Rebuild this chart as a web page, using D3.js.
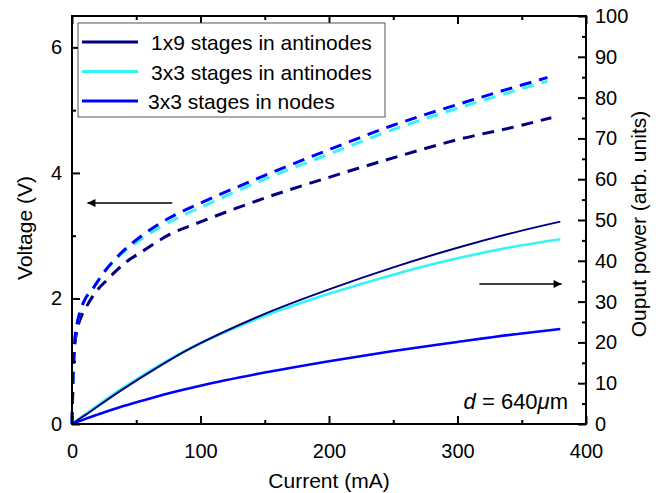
<!DOCTYPE html>
<html>
<head>
<meta charset="utf-8">
<script src="https://cdn.jsdelivr.net/npm/d3@7"></script>
<style>
  body { margin: 0; background: #fff; }
  svg text { font-family: "Liberation Sans", Arial, Helvetica, sans-serif; fill: #000; }
</style>
</head>
<body>
<div id="vis"></div>
<script>
// voltage curves (dashed, left axis)
var currentV1x9 = [0, 1, 2, 4, 6, 10, 18, 27, 42, 54, 76, 100, 150, 200, 250, 300, 350, 373];
var voltage1x9 = [0, 0.8, 1.2, 1.5, 1.65, 1.82, 2.09, 2.29, 2.58, 2.74, 3.02, 3.22, 3.6, 3.93, 4.24, 4.53, 4.76, 4.88];
var currentV3x3 = [0, 1, 2, 4, 6, 10, 16, 25, 37, 53, 68, 84, 100, 150, 200, 250, 300, 350, 370];
var voltage3x3anti = [0, 0.9, 1.3, 1.6, 1.77, 1.98, 2.15, 2.42, 2.68, 2.93, 3.13, 3.3, 3.45, 3.9, 4.3, 4.69, 5.03, 5.34, 5.46];
var voltage3x3nodes = [0, 0.9, 1.3, 1.6, 1.77, 1.98, 2.15, 2.42, 2.7, 2.98, 3.19, 3.37, 3.52, 3.96, 4.37, 4.76, 5.09, 5.4, 5.52];

// output power curves (solid, right axis)
var currentP = [0, 10, 20, 40, 60, 80, 100, 150, 200, 250, 300, 350, 380];
var power1x9 = [0, 2.1, 4.3, 8.6, 12.6, 16.4, 19.8, 27.0, 33.0, 38.4, 43.2, 47.4, 49.6];
var power3x3anti = [0, 2.3, 4.6, 8.9, 12.9, 16.6, 19.8, 26.5, 31.9, 36.6, 40.6, 43.8, 45.3];
var power3x3nodes = [0, 1.2, 2.3, 4.4, 6.2, 7.9, 9.4, 12.6, 15.4, 17.9, 20.1, 22.2, 23.3];

var seriesNames = ['1x9 stages in antinodes', '3x3 stages in antinodes', '3x3 stages in nodes'];
var seriesColors = ['#000080', '#33f5f5', '#0000ff'];

var xTicks = [0, 100, 200, 300, 400];
var xMinor = [50, 150, 250, 350];
var yLeftTicks = [0, 2, 4, 6];
var yLeftMinor = [1, 3, 5];
var yRightTicks = [0, 10, 20, 30, 40, 50, 60, 70, 80, 90, 100];
var yRightMinor = [5, 15, 25, 35, 45, 55, 65, 75, 85, 95];

// arrows: [current from, current to, value]
var arrowVoltage = [78, 12, 3.52];
var arrowPower = [317, 381, 34.3];

var margin = { top: 16, left: 72, right: 74, bottom: 69 };
var width = 660 - margin.left - margin.right;
var height = 493 - margin.top - margin.bottom;

var svg = d3.select('#vis')
  .append('svg')
  .attr('width', 660)
  .attr('height', 493);

var g = svg.append('g')
  .attr('transform', 'translate(' + margin.left + ',' + margin.top + ')');

var x = d3.scaleLinear().domain([0, 400]).range([0, width]);
var yV = d3.scaleLinear().domain([0, 6.5]).range([height, 0]);
var yP = d3.scaleLinear().domain([0, 100]).range([height, 0]);

function zip(xs, ys) {
  return xs.map(function(d, i) { return [d, ys[i]]; });
}

var lineV = d3.line()
  .curve(d3.curveMonotoneX)
  .x(function(d) { return x(d[0]); })
  .y(function(d) { return yV(d[1]); });

var lineP = d3.line()
  .curve(d3.curveMonotoneX)
  .x(function(d) { return x(d[0]); })
  .y(function(d) { return yP(d[1]); });

var voltageData = [
  zip(currentV1x9, voltage1x9),
  zip(currentV3x3, voltage3x3anti),
  zip(currentV3x3, voltage3x3nodes)
];
var powerData = [
  zip(currentP, power1x9),
  zip(currentP, power3x3anti),
  zip(currentP, power3x3nodes)
];

// dashed voltage lines
g.selectAll('.vline')
  .data(voltageData)
  .enter()
  .append('path')
  .attr('class', 'vline')
  .attr('fill', 'none')
  .attr('stroke', function(d, i) { return seriesColors[i]; })
  .attr('stroke-width', 3)
  .attr('stroke-dasharray', '12,8')
  .attr('d', lineV);

// solid power lines (cyan first so navy sits on top)
var powerOrder = [1, 0, 2];
g.selectAll('.pline')
  .data(powerOrder)
  .enter()
  .append('path')
  .attr('class', 'pline')
  .attr('fill', 'none')
  .attr('stroke', function(i) { return seriesColors[i]; })
  .attr('stroke-width', function(i) { return i === 0 ? 2 : 2.6; })
  .attr('d', function(i) { return lineP(powerData[i]); });

// axes, ticks pointing inward
function styleAxis(sel) {
  sel.select('.domain').remove();
  sel.selectAll('line').attr('stroke', '#000').attr('stroke-width', 2);
  sel.selectAll('text').style('font-size', '20px').attr('fill', '#000');
}

g.append('g')
  .attr('transform', 'translate(0,' + height + ')')
  .call(d3.axisBottom(x).tickValues(xTicks).tickSize(-8).tickPadding(20))
  .call(styleAxis);
g.append('g')
  .attr('transform', 'translate(0,' + height + ')')
  .call(d3.axisBottom(x).tickValues(xMinor).tickSize(-4).tickFormat(''))
  .call(styleAxis);
g.append('g')
  .call(d3.axisTop(x).tickValues(xTicks).tickSize(-8).tickFormat(''))
  .call(styleAxis);
g.append('g')
  .call(d3.axisTop(x).tickValues(xMinor).tickSize(-4).tickFormat(''))
  .call(styleAxis);

g.append('g')
  .call(d3.axisLeft(yV).tickValues(yLeftTicks).tickSize(-8).tickPadding(10).tickFormat(d3.format('d')))
  .call(styleAxis);
g.append('g')
  .call(d3.axisLeft(yV).tickValues(yLeftMinor).tickSize(-4).tickFormat(''))
  .call(styleAxis);

g.append('g')
  .attr('transform', 'translate(' + width + ',0)')
  .call(d3.axisRight(yP).tickValues(yRightTicks).tickSize(-8).tickPadding(9))
  .call(styleAxis);
g.append('g')
  .attr('transform', 'translate(' + width + ',0)')
  .call(d3.axisRight(yP).tickValues(yRightMinor).tickSize(-4).tickFormat(''))
  .call(styleAxis);

// frame
g.append('rect')
  .attr('width', width)
  .attr('height', height)
  .attr('fill', 'none')
  .attr('stroke', '#000')
  .attr('stroke-width', 2);

// axis titles
g.append('text')
  .attr('x', width / 2)
  .attr('y', height + 64)
  .attr('text-anchor', 'middle')
  .style('font-size', '21px')
  .text('Current (mA)');

g.append('text')
  .attr('transform', 'rotate(-90)')
  .attr('x', -height / 2 - 8)
  .attr('y', 32 - margin.left)
  .attr('text-anchor', 'middle')
  .style('font-size', '21px')
  .text('Voltage (V)');

g.append('text')
  .attr('transform', 'rotate(-90)')
  .attr('x', -height / 2 - 4)
  .attr('y', width + 60)
  .attr('text-anchor', 'middle')
  .style('font-size', '21px')
  .text('Ouput power (arb. units)');

// arrows
svg.append('defs').append('marker')
  .attr('id', 'head')
  .attr('viewBox', '0 0 10 10')
  .attr('refX', 10)
  .attr('refY', 5)
  .attr('markerUnits', 'userSpaceOnUse')
  .attr('markerWidth', 13)
  .attr('markerHeight', 8)
  .attr('orient', 'auto')
  .append('path')
  .attr('d', 'M0,0 L10,5 L0,10 Z')
  .attr('fill', '#000');

g.append('line')
  .attr('x1', x(arrowVoltage[0])).attr('x2', x(arrowVoltage[1]))
  .attr('y1', yV(arrowVoltage[2])).attr('y2', yV(arrowVoltage[2]))
  .attr('stroke', '#000').attr('stroke-width', 1.5)
  .attr('marker-end', 'url(#head)');

g.append('line')
  .attr('x1', x(arrowPower[0])).attr('x2', x(arrowPower[1]))
  .attr('y1', yP(arrowPower[2])).attr('y2', yP(arrowPower[2]))
  .attr('stroke', '#000').attr('stroke-width', 1.5)
  .attr('marker-end', 'url(#head)');

// d = 640 um note
var note = g.append('text')
  .attr('x', width - 18)
  .attr('y', height - 15)
  .attr('text-anchor', 'end')
  .style('font-size', '22px');
note.append('tspan').style('font-style', 'italic').text('d');
note.append('tspan').text(' = 640');
note.append('tspan').style('font-style', 'italic').text('\u03bc');
note.append('tspan').text('m');

// legend
var legend = g.append('g')
  .attr('transform', 'translate(6,7)');

legend.append('rect')
  .attr('width', 307)
  .attr('height', 94)
  .attr('fill', '#fff')
  .attr('stroke', '#555')
  .attr('stroke-width', 1);

var items = legend.selectAll('.item')
  .data(seriesNames)
  .enter()
  .append('g')
  .attr('class', 'item')
  .attr('transform', function(d, i) { return 'translate(0,' + (19 + i * 29.5) + ')'; });

items.append('line')
  .attr('x1', 4).attr('x2', 60)
  .attr('stroke', function(d, i) { return seriesColors[i]; })
  .attr('stroke-width', 3);

items.append('text')
  .attr('x', function(d, i) { return i === 2 ? 70 : 73; })
  .attr('y', 8)
  .style('font-size', '21px')
  .text(function(d) { return d; });
</script>
</body>
</html>
